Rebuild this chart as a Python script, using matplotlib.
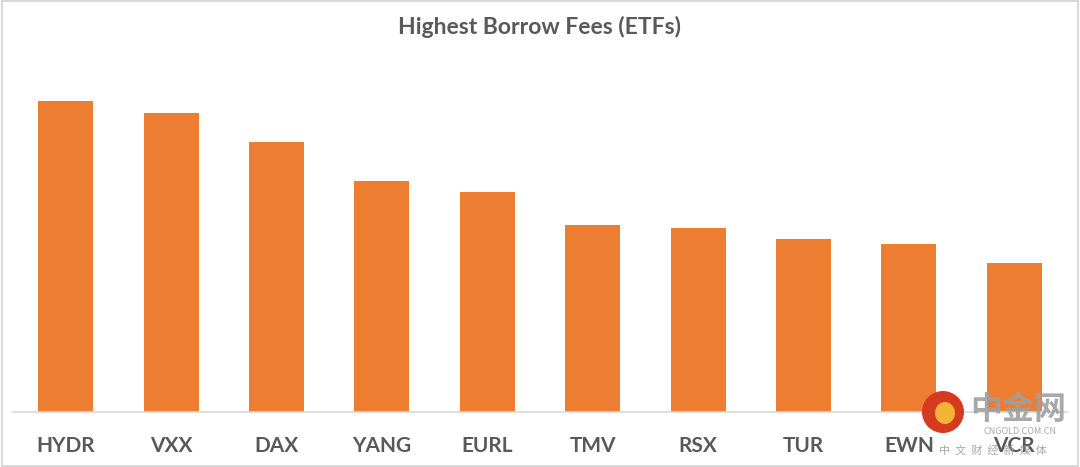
import matplotlib
matplotlib.use('Agg')
from matplotlib import pyplot as plt
from matplotlib.patches import Rectangle, Ellipse

# datos (alturas relativas, sin eje y visible)
etiquetas = ['HYDR', 'VXX', 'DAX', 'YANG', 'EURL', 'TMV', 'RSX', 'TUR', 'EWN', 'VCR']
valores = [311, 299, 270, 231, 220, 187, 184, 173, 168, 149]

naranja = '#ED7D31'
gris = '#595959'

plt.rcParams['font.family'] = ['Lato', 'DejaVu Sans']

fig = plt.figure(figsize=(10.8, 4.67), dpi=100)
ax = fig.add_axes([13 / 1080, 55 / 467, 1054 / 1080, 342 / 467])

ax.bar(range(len(etiquetas)), valores, width=0.52, color=naranja)
ax.set_xlim(-0.5, len(etiquetas) - 0.5)
ax.set_ylim(0, 342)

for lado in ['top', 'right', 'left']:
    ax.spines[lado].set_visible(False)
ax.spines['bottom'].set_color('#d9d9d9')
ax.spines['bottom'].set_linewidth(1.2)
ax.set_yticks([])
ax.set_xticks(range(len(etiquetas)))
ax.set_xticklabels(etiquetas, fontsize=15, fontweight='bold', color=gris)
ax.tick_params(axis='x', length=0, pad=17)

fig.text(0.5, 0.942, 'Highest Borrow Fees (ETFs)', ha='center', va='center',
         fontsize=16.5, fontweight='bold', color=gris)

# borde del gráfico
fig.patches.append(Rectangle((0.002, 0.003), 0.996, 0.994, transform=fig.transFigure,
                             fill=False, edgecolor='#d9d9d9', linewidth=1.5))

# marca de agua
cjk = ['Noto Sans CJK SC', 'DejaVu Sans']
cx, cy = 943 / 1080, 1 - 412 / 467
fig.patches.append(Ellipse((cx, cy), 42 / 1080, 42 / 467, transform=fig.transFigure,
                           facecolor='#d63a1f', edgecolor='none'))
fig.patches.append(Ellipse((cx + 2 / 1080, cy - 1 / 467), 20 / 1080, 22 / 467,
                           transform=fig.transFigure, facecolor='#f5b335', edgecolor='none'))
fig.text(1018 / 1080, 1 - 410 / 467, '中金网', ha='center', va='center', fontsize=23,
         fontweight='bold', color='#a0a0a0', alpha=0.9, family=cjk)
fig.text(1020 / 1080, 1 - 432 / 467, 'CNGOLD.COM.CN', ha='center', va='center', fontsize=6.5,
         color='#a0a0a0', alpha=0.9, family=cjk)
fig.text(993 / 1080, 1 - 450 / 467, '中  文  财  经  新  媒  体', ha='center', va='center',
         fontsize=8, color='#a0a0a0', alpha=0.9, family=cjk)

fig.savefig('out.png', dpi=100)
